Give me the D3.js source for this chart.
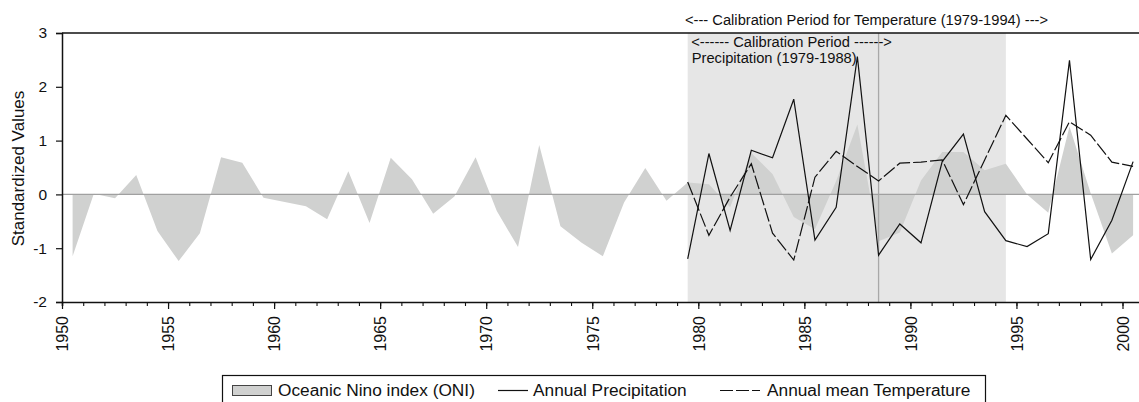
<!DOCTYPE html>
<html>
<head>
<meta charset="utf-8">
<script src="https://cdn.jsdelivr.net/npm/d3@7"></script>
<style>
  html, body { margin: 0; padding: 0; background: #fff; }
  svg { display: block; font-family: "Liberation Sans", Arial, Helvetica, sans-serif; }
</style>
</head>
<body>
<svg id="chart" width="1139" height="402"></svg>
<script>
// ---------- data ----------
const oniYears = d3.range(1950, 2001);
const oniValues = [
  -1.15, 0.01, -0.07, 0.36, -0.68, -1.24, -0.72, 0.69, 0.59, -0.06,
  -0.14, -0.22, -0.46, 0.43, -0.53, 0.68, 0.28, -0.36, -0.04, 0.69,
  -0.31, -0.98, 0.92, -0.59, -0.90, -1.15, -0.15, 0.49, -0.12, 0.22,
  0.19, -0.24, 0.77, 0.38, -0.42, -0.65, 0.25, 1.30, -0.87, -0.71,
  0.26, 0.79, 0.79, 0.45, 0.57, 0.00, -0.34, 1.26, 0.02, -1.10, -0.76
];
const calYears = d3.range(1979, 2001);
const precipValues = [
  -1.20, 0.76, -0.67, 0.82, 0.68, 1.77, -0.85, -0.24, 2.56, -1.13,
  -0.55, -0.90, 0.61, 1.12, -0.32, -0.86, -0.97, -0.73, 2.49, -1.21,
  -0.48, 0.61
];
const tempValues = [
  0.23, -0.76, -0.05, 0.57, -0.72, -1.22, 0.32, 0.80, 0.52, 0.25,
  0.58, 0.60, 0.64, -0.19, 0.64, 1.47, 1.03, 0.59, 1.35, 1.10,
  0.60, 0.52
];
const yTicks = [-2, -1, 0, 1, 2, 3];
const xMajorTicks = d3.range(1950, 2001, 5);
const xMinorTicks = d3.range(1950, 2001);
const tempPeriod = [1979, 1994];
const precipPeriod = [1979, 1988];
const legendLabels = ["Oceanic Nino index (ONI)", "Annual Precipitation", "Annual mean Temperature"];
const yAxisTitle = "Standardized Values";
const tempPeriodLabel = "<--- Calibration Period for Temperature (1979-1994) --->";
const precipPeriodLabel1 = "<------ Calibration Period ------>";
const precipPeriodLabel2 = "Precipitation (1979-1988)";

// ---------- layout ----------
const svg = d3.select("#chart");
const plot = { left: 62, top: 33, bottom: 302 };
const x = d3.scaleLinear().domain([1950, 2001]).range([plot.left, plot.left + 51 * 21.21]);
const y = d3.scaleLinear().domain([-2, 3]).range([plot.bottom, plot.top]);
const mid = yr => x(yr + 0.5); // annual values plotted at mid-year

const oni = oniYears.map((yr, i) => ({ yr, v: oniValues[i] }));
const precip = calYears.map((yr, i) => ({ yr, v: precipValues[i] }));
const temp = calYears.map((yr, i) => ({ yr, v: tempValues[i] }));

// calibration shading
svg.append("rect")
  .attr("x", x(tempPeriod[0] + 0.5)).attr("y", y(3))
  .attr("width", x(tempPeriod[1] + 0.5) - x(tempPeriod[0] + 0.5))
  .attr("height", y(-2) - y(3))
  .attr("fill", "#e6e6e6");

// ONI area
svg.append("path")
  .datum(oni)
  .attr("fill", "#d0d1d0")
  .attr("d", d3.area().x(d => mid(d.yr)).y0(y(0)).y1(d => y(d.v)));

// zero line
svg.append("line")
  .attr("x1", x(1950)).attr("x2", x(2001))
  .attr("y1", y(0)).attr("y2", y(0))
  .attr("stroke", "#a0a0a0").attr("stroke-width", 1.3);

// precipitation calibration end line
svg.append("line")
  .attr("x1", x(precipPeriod[1] + 0.5)).attr("x2", x(precipPeriod[1] + 0.5))
  .attr("y1", y(3)).attr("y2", y(-2))
  .attr("stroke", "#a8a8a8").attr("stroke-width", 1.3);

// series lines
const line = d3.line().x(d => mid(d.yr)).y(d => y(d.v));
svg.append("path").datum(temp)
  .attr("fill", "none").attr("stroke", "#111").attr("stroke-width", 1.2)
  .attr("stroke-dasharray", "14,3")
  .attr("d", line);
svg.append("path").datum(precip)
  .attr("fill", "none").attr("stroke", "#111").attr("stroke-width", 1.2)
  .attr("d", line);

// top border
svg.append("line")
  .attr("x1", x(1950)).attr("x2", x(2001))
  .attr("y1", y(3)).attr("y2", y(3))
  .attr("stroke", "#111").attr("stroke-width", 1.5);

// y axis
const yAxis = svg.append("g")
  .attr("transform", `translate(${plot.left},0)`)
  .call(d3.axisLeft(y).tickValues(yTicks).tickFormat(d => String(d)).tickSize(6).tickPadding(9));
yAxis.select(".domain").attr("stroke", "#111").attr("stroke-width", 1.5);
yAxis.selectAll(".tick line").attr("stroke", "#111").attr("stroke-width", 1.2);
yAxis.selectAll(".tick text").attr("font-size", "15.5px").attr("fill", "#111").attr("font-family", "Liberation Sans, Arial, sans-serif");

// x axis: minor ticks
const xMinor = svg.append("g")
  .attr("transform", `translate(0,${plot.bottom})`)
  .call(d3.axisBottom(x).tickValues(xMinorTicks).tickSize(4).tickFormat(""));
xMinor.select(".domain").attr("stroke", "#111").attr("stroke-width", 1.5);
xMinor.selectAll(".tick line").attr("stroke", "#111").attr("stroke-width", 1.1);

// x axis: major ticks + labels
const xMajor = svg.append("g")
  .attr("transform", `translate(0,${plot.bottom})`)
  .call(d3.axisBottom(x).tickValues(xMajorTicks).tickSize(7).tickFormat(d => String(d)));
xMajor.select(".domain").remove();
xMajor.selectAll(".tick line").attr("stroke", "#111").attr("stroke-width", 1.2);
xMajor.selectAll(".tick text")
  .attr("font-size", "16px").attr("fill", "#111").attr("font-family", "Liberation Sans, Arial, sans-serif")
  .attr("text-anchor", "end")
  .attr("transform", "rotate(-90)")
  .attr("x", -14).attr("y", 0).attr("dy", "0.36em");

// y axis title
svg.append("text")
  .attr("transform", `translate(24,${(y(3) + y(-2)) / 2 + 1}) rotate(-90)`)
  .attr("text-anchor", "middle")
  .attr("font-size", "17px").attr("fill", "#111")
  .text(yAxisTitle);

// annotations
svg.append("text")
  .attr("x", 685).attr("y", 24.5)
  .attr("font-size", "14.7px").attr("fill", "#111")
  .text(tempPeriodLabel);
svg.append("text")
  .attr("x", x(precipPeriod[0] + 0.5) + 3.5).attr("y", 46.5)
  .attr("font-size", "14.7px").attr("fill", "#111")
  .text(precipPeriodLabel1);
svg.append("text")
  .attr("x", x(precipPeriod[0] + 0.5) + 4).attr("y", 62.5)
  .attr("font-size", "14.7px").attr("fill", "#111")
  .text(precipPeriodLabel2);

// legend
const lg = svg.append("g");
lg.append("rect")
  .attr("x", 222.5).attr("y", 375.5).attr("width", 763).attr("height", 40)
  .attr("fill", "#fff").attr("stroke", "#111").attr("stroke-width", 1.2);
lg.append("rect")
  .attr("x", 232.5).attr("y", 385.5).attr("width", 39).attr("height", 10)
  .attr("fill", "#d0d1d0").attr("stroke", "#444").attr("stroke-width", 1);
const legendText = (tx, s) => lg.append("text")
  .attr("x", tx).attr("y", 396).attr("font-size", "17.3px").attr("fill", "#111").text(s);
legendText(278, legendLabels[0]);
lg.append("line").attr("x1", 498).attr("x2", 528).attr("y1", 390.5).attr("y2", 390.5)
  .attr("stroke", "#111").attr("stroke-width", 1.2);
legendText(533, legendLabels[1]);
lg.append("line").attr("x1", 720).attr("x2", 763).attr("y1", 390.5).attr("y2", 390.5)
  .attr("stroke", "#111").attr("stroke-width", 1.2).attr("stroke-dasharray", "13,3,13,3,8");
legendText(767, legendLabels[2]);
</script>
</body>
</html>
